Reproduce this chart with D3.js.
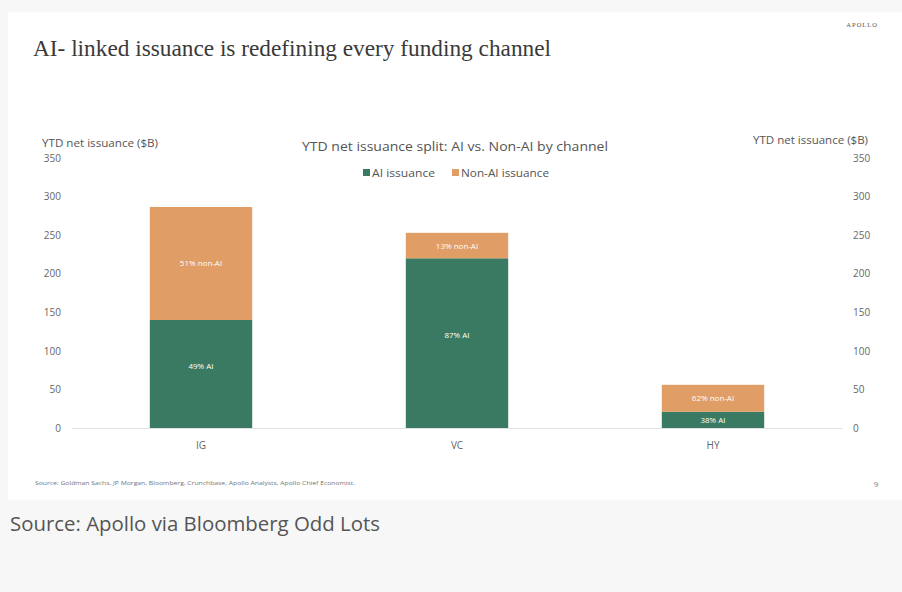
<!DOCTYPE html>
<html>
<head>
<meta charset="utf-8">
<script src="https://cdn.jsdelivr.net/npm/d3@7"></script>
<style>
  html, body { margin: 0; padding: 0; background: #f7f7f7; }
  svg { display: block; }
</style>
</head>
<body>
<svg id="chart" width="902" height="592"></svg>
<script>
// ---- Data ----
const categories = ["IG", "VC", "HY"];
const aiValues = [140, 220, 21];
const nonAiValues = [146.5, 33, 35];
const aiLabels = ["49% AI", "87% AI", "38% AI"];
const nonAiLabels = ["51% non-AI", "13% non-AI", "62% non-AI"];
const yTicks = [0, 50, 100, 150, 200, 250, 300, 350];
const seriesNames = ["AI issuance", "Non-AI issuance"];

const colors = { ai: "#3b7a62", nonAi: "#e09d66" };
const sans = "'Open Sans', 'Noto Sans', sans-serif";

const svg = d3.select("#chart");

// Slide background
svg.append("rect").attr("x", 8).attr("y", 12).attr("width", 894).attr("height", 488).attr("fill", "#ffffff");

// Title
svg.append("text")
  .attr("x", 33).attr("y", 56)
  .attr("font-family", "'Liberation Serif', 'DejaVu Serif', serif")
  .attr("font-size", 24).attr("fill", "#3a3a3a")
  .attr("textLength", 518).attr("lengthAdjust", "spacingAndGlyphs")
  .text("AI- linked issuance is redefining every funding channel");

svg.append("text")
  .attr("x", 878).attr("y", 27).attr("text-anchor", "end")
  .attr("font-family", "'Liberation Serif', serif")
  .attr("font-size", 6.5).attr("letter-spacing", 1).attr("fill", "#555")
  .text("APOLLO");

// Scales
const x = d3.scaleBand().domain(categories).range([73, 841]).paddingInner(0.6).paddingOuter(0.3);
const y = d3.scaleLinear().domain([0, 350]).range([428, 158]);

// Chart subtitle
svg.append("text")
  .attr("x", 455).attr("y", 151).attr("text-anchor", "middle")
  .attr("font-family", sans).attr("font-size", 12.5).attr("fill", "#555")
  .attr("textLength", 306).attr("lengthAdjust", "spacingAndGlyphs")
  .text("YTD net issuance split: AI vs. Non-AI by channel");

// Legend
const legend = svg.append("g");
const legendItems = [
  { name: seriesNames[0], color: colors.ai, x: 363, w: 72 },
  { name: seriesNames[1], color: colors.nonAi, x: 452, w: 97 }
];
legendItems.forEach(d => {
  legend.append("rect").attr("x", d.x).attr("y", 169).attr("width", 7).attr("height", 7).attr("fill", d.color);
  legend.append("text").attr("x", d.x + 9).attr("y", 176.5)
    .attr("font-family", sans).attr("font-size", 10.5).attr("fill", "#555")
    .attr("textLength", d.w - 9).attr("lengthAdjust", "spacingAndGlyphs").text(d.name);
});

// Axis titles
svg.append("text").attr("x", 42).attr("y", 147)
  .attr("font-family", sans).attr("font-size", 10).attr("fill", "#555")
  .attr("textLength", 116).attr("lengthAdjust", "spacingAndGlyphs")
  .text("YTD net issuance ($B)");
svg.append("text").attr("x", 868).attr("y", 144).attr("text-anchor", "end")
  .attr("font-family", sans).attr("font-size", 10).attr("fill", "#555")
  .attr("textLength", 115).attr("lengthAdjust", "spacingAndGlyphs")
  .text("YTD net issuance ($B)");

// Left axis
const leftAxis = svg.append("g").attr("transform", "translate(61,0)")
  .call(d3.axisLeft(y).tickValues(yTicks).tickSize(0).tickPadding(0));
leftAxis.select(".domain").remove();
leftAxis.selectAll("text").attr("font-family", sans).attr("font-size", 10).attr("fill", "#666");

// Right axis
const rightAxis = svg.append("g").attr("transform", "translate(853,0)")
  .call(d3.axisRight(y).tickValues(yTicks).tickSize(0).tickPadding(0));
rightAxis.select(".domain").remove();
rightAxis.selectAll("text").attr("font-family", sans).attr("font-size", 10).attr("fill", "#666");

// Baseline
svg.append("line").attr("x1", 72).attr("x2", 842).attr("y1", y(0) + 0.5).attr("y2", y(0) + 0.5)
  .attr("stroke", "#e2e2e2").attr("stroke-width", 1);

// Bars
const data = categories.map((c, i) => ({ c, ai: aiValues[i], non: nonAiValues[i], aiL: aiLabels[i], nonL: nonAiLabels[i] }));
const bars = svg.append("g");
bars.selectAll(".ai").data(data).join("rect")
  .attr("x", d => x(d.c)).attr("width", x.bandwidth())
  .attr("y", d => y(d.ai)).attr("height", d => y(0) - y(d.ai))
  .attr("fill", colors.ai);
bars.selectAll(".non").data(data).join("rect")
  .attr("x", d => x(d.c)).attr("width", x.bandwidth())
  .attr("y", d => y(d.ai + d.non)).attr("height", d => y(d.ai) - y(d.ai + d.non))
  .attr("fill", colors.nonAi);

// Bar labels
bars.selectAll(".aiL").data(data).join("text")
  .attr("x", d => x(d.c) + x.bandwidth() / 2)
  .attr("y", d => (y(0) + y(d.ai)) / 2 + 3 - (y(0) - y(d.ai) > 60 ? 8 : 0))
  .attr("text-anchor", "middle").attr("font-family", sans).attr("font-size", 8).attr("fill", "#ffffff")
  .text(d => d.aiL);
bars.selectAll(".nonL").data(data).join("text")
  .attr("x", d => x(d.c) + x.bandwidth() / 2)
  .attr("y", d => (y(d.ai) + y(d.ai + d.non)) / 2 + 3)
  .attr("text-anchor", "middle").attr("font-family", sans).attr("font-size", 8).attr("fill", "#ffffff")
  .text(d => d.nonL);

// Category labels
const xAxis = svg.append("g").attr("transform", `translate(0,${y(0)})`)
  .call(d3.axisBottom(x).tickSize(0).tickPadding(14));
xAxis.select(".domain").remove();
xAxis.selectAll("text").attr("font-family", sans).attr("font-size", 10).attr("fill", "#666");

// Footer note
svg.append("text").attr("x", 35).attr("y", 485)
  .attr("font-family", sans).attr("font-size", 5.5).attr("fill", "#777")
  .attr("textLength", 320).attr("lengthAdjust", "spacingAndGlyphs")
  .text("Source: Goldman Sachs, JP Morgan, Bloomberg, Crunchbase, Apollo Analysts, Apollo Chief Economist.");
svg.append("text").attr("x", 876).attr("y", 487).attr("text-anchor", "middle")
  .attr("font-family", sans).attr("font-size", 8).attr("fill", "#777").text("9");

// Caption
svg.append("text").attr("x", 10).attr("y", 531)
  .attr("font-family", sans).attr("font-size", 19.5).attr("fill", "#555")
  .attr("textLength", 370).attr("lengthAdjust", "spacingAndGlyphs")
  .text("Source: Apollo via Bloomberg Odd Lots");
</script>
</body>
</html>
